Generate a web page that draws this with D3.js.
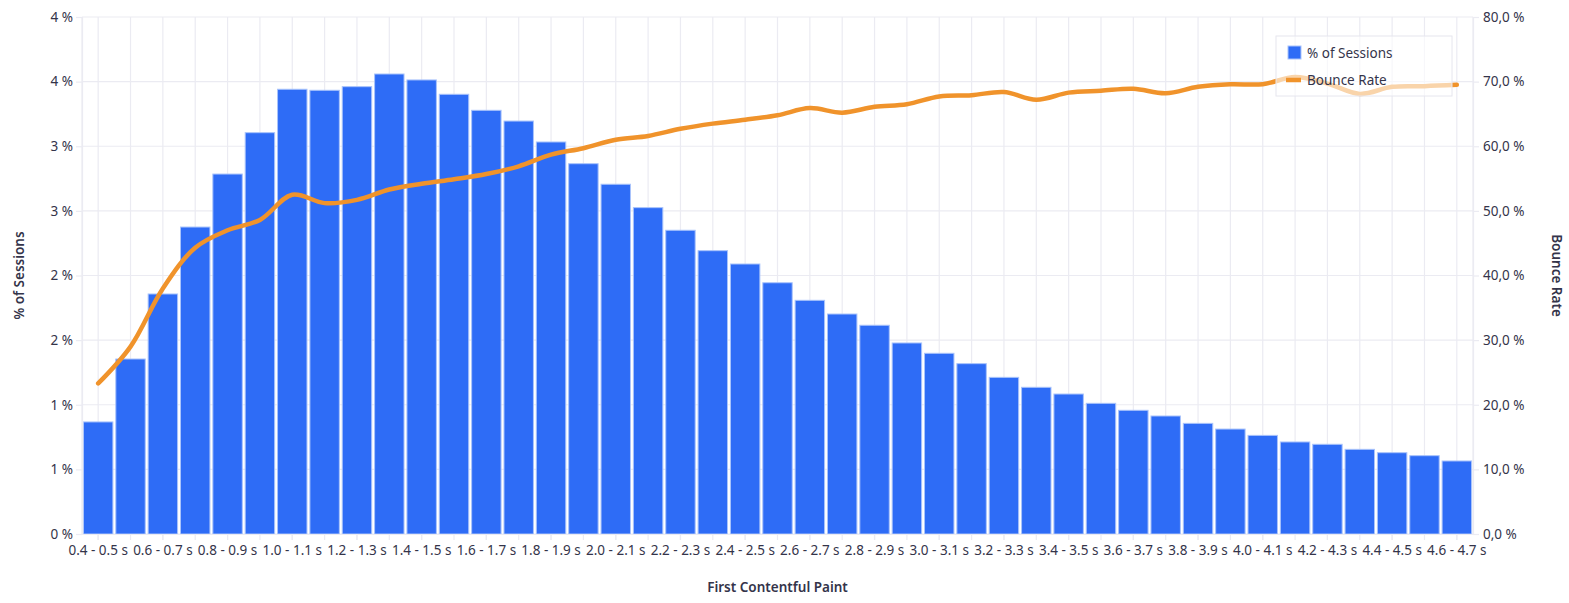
<!DOCTYPE html>
<html>
<head>
<meta charset="utf-8">
<script src="https://cdn.jsdelivr.net/npm/d3@7/dist/d3.min.js"></script>
<style>
  html, body { margin: 0; padding: 0; background: #fff; }
  svg { display: block; font-family: "Noto Sans", "Open Sans", sans-serif; }
</style>
</head>
<body>
<svg id="chart" width="1569" height="603"></svg>
<script>
const categories = [
  "0.4 - 0.5 s","0.5 - 0.6 s","0.6 - 0.7 s","0.7 - 0.8 s","0.8 - 0.9 s","0.9 - 1.0 s",
  "1.0 - 1.1 s","1.1 - 1.2 s","1.2 - 1.3 s","1.3 - 1.4 s","1.4 - 1.5 s","1.5 - 1.6 s",
  "1.6 - 1.7 s","1.7 - 1.8 s","1.8 - 1.9 s","1.9 - 2.0 s","2.0 - 2.1 s","2.1 - 2.2 s",
  "2.2 - 2.3 s","2.3 - 2.4 s","2.4 - 2.5 s","2.5 - 2.6 s","2.6 - 2.7 s","2.7 - 2.8 s",
  "2.8 - 2.9 s","2.9 - 3.0 s","3.0 - 3.1 s","3.1 - 3.2 s","3.2 - 3.3 s","3.3 - 3.4 s",
  "3.4 - 3.5 s","3.5 - 3.6 s","3.6 - 3.7 s","3.7 - 3.8 s","3.8 - 3.9 s","3.9 - 4.0 s",
  "4.0 - 4.1 s","4.1 - 4.2 s","4.2 - 4.3 s","4.3 - 4.4 s","4.4 - 4.5 s","4.5 - 4.6 s",
  "4.6 - 4.7 s"
];
const sessionsPct = [
  0.867, 1.354, 1.857, 2.375, 2.785, 3.105, 3.441, 3.433, 3.461, 3.559, 3.513, 3.402,
  3.278, 3.195, 3.033, 2.865, 2.706, 2.525, 2.350, 2.192, 2.089, 1.944, 1.808, 1.702,
  1.615, 1.478, 1.398, 1.318, 1.212, 1.135, 1.083, 1.011, 0.957, 0.913, 0.856, 0.812,
  0.763, 0.712, 0.694, 0.655, 0.629, 0.606, 0.565
];
const bounceRate = [
  23.3, 29.0, 38.0, 44.3, 47.0, 48.6, 52.5, 51.2, 51.7, 53.3, 54.2, 54.9,
  55.7, 56.9, 58.7, 59.7, 61.0, 61.6, 62.7, 63.5, 64.1, 64.8, 65.9, 65.2,
  66.1, 66.5, 67.7, 67.9, 68.4, 67.2, 68.3, 68.6, 68.9, 68.2, 69.2, 69.6,
  69.6, 70.7, 69.7, 68.1, 69.2, 69.3, 69.5
];
const leftTicks = [0, 0.5, 1, 1.5, 2, 2.5, 3, 3.5, 4];
const rightTicks = [0, 10, 20, 30, 40, 50, 60, 70, 80];
const seriesNames = ["% of Sessions", "Bounce Rate"];
const axisTitles = { x: "First Contentful Paint", yLeft: "% of Sessions", yRight: "Bounce Rate" };

const svg = d3.select("#chart");
const W = 1569, H = 603;
const M = { left: 82, right: W - 1473, top: 17, bottom: H - 534 };
const x0 = M.left, x1 = W - M.right, y0 = H - M.bottom, y1 = M.top;

const textColor = "#34344a";
const gridColor = "#ebebf2";
const barColor = "#2e6cf6";
const lineColor = "#f0932b";
const fs = 13.5;

const x = d3.scaleBand().domain(categories).range([x0, x1]).paddingInner(0.09).paddingOuter(0.045);
const yL = d3.scaleLinear().domain([0, 4]).range([y0, y1]);
const yR = d3.scaleLinear().domain([0, 80]).range([y0, y1]);
const cx = c => x(c) + x.bandwidth() / 2;

// grid
const grid = svg.append("g");
grid.selectAll("line.h").data(leftTicks).join("line")
  .attr("x1", x0).attr("x2", x1).attr("y1", d => yL(d)).attr("y2", d => yL(d))
  .attr("stroke", gridColor).attr("stroke-width", 1.2);
grid.selectAll("line.v").data(categories).join("line")
  .attr("x1", d => cx(d)).attr("x2", d => cx(d)).attr("y1", y1).attr("y2", y0)
  .attr("stroke", gridColor).attr("stroke-width", 1.2);
grid.selectAll("line.e").data([x0, x1]).join("line")
  .attr("x1", d => d).attr("x2", d => d).attr("y1", y1).attr("y2", y0)
  .attr("stroke", gridColor).attr("stroke-width", 1.2);

// bars
svg.append("g").selectAll("rect").data(sessionsPct).join("rect")
  .attr("x", (d, i) => x(categories[i]))
  .attr("y", d => yL(d))
  .attr("width", x.bandwidth())
  .attr("height", d => yL(0) - yL(d))
  .attr("fill", barColor)
  .attr("stroke", "#a9c3fb").attr("stroke-width", 1);

// line
const line = d3.line()
  .x((d, i) => cx(categories[i]))
  .y(d => yR(d))
  .curve(d3.curveCatmullRom.alpha(0.5));
svg.append("path").datum(bounceRate)
  .attr("d", line)
  .attr("fill", "none").attr("stroke", lineColor)
  .attr("stroke-width", 4.5).attr("stroke-linecap", "round").attr("stroke-linejoin", "round");

// axes
const fmtL = d => Math.round(d) + " %";
const fmtR = d => d3.format(".1f")(d).replace(".", ",") + " %";

const axL = svg.append("g").attr("transform", `translate(${x0},0)`)
  .call(d3.axisLeft(yL).tickValues(leftTicks).tickFormat(fmtL).tickSize(6).tickPadding(3));
const axR = svg.append("g").attr("transform", `translate(${x1},0)`)
  .call(d3.axisRight(yR).tickValues(rightTicks).tickFormat(fmtR).tickSize(6).tickPadding(4));
const labelCats = categories.filter((d, i) => i % 2 === 0);
const axB = svg.append("g").attr("transform", `translate(0,${y0})`)
  .call(d3.axisBottom(x).tickValues(labelCats).tickSize(6).tickPadding(5));
svg.append("g").selectAll("line").data(categories).join("line")
  .attr("x1", d => cx(d)).attr("x2", d => cx(d)).attr("y1", y0).attr("y2", y0 + 6)
  .attr("stroke", gridColor).attr("stroke-width", 1.2);

[axL, axR, axB].forEach(a => {
  a.select(".domain").attr("stroke", gridColor).attr("stroke-width", 1.2);
  a.selectAll(".tick line").attr("stroke", gridColor).attr("stroke-width", 1.2);
  a.selectAll(".tick text").attr("fill", textColor).attr("font-size", fs)
    .attr("font-family", "'Noto Sans', sans-serif");
});
axB.select(".domain").attr("d", `M${x0},0.5H${x1}`);

// axis titles
svg.append("text").attr("x", (x0 + x1) / 2).attr("y", 592)
  .attr("text-anchor", "middle").attr("font-size", fs).attr("font-weight", 600)
  .attr("fill", textColor).text(axisTitles.x);
svg.append("text").attr("transform", `translate(24,${(y0 + y1) / 2}) rotate(-90)`)
  .attr("text-anchor", "middle").attr("font-size", fs).attr("font-weight", 600)
  .attr("fill", textColor).text(axisTitles.yLeft);
svg.append("text").attr("transform", `translate(1552,${(y0 + y1) / 2}) rotate(90)`)
  .attr("text-anchor", "middle").attr("font-size", fs).attr("font-weight", 600)
  .attr("fill", textColor).text(axisTitles.yRight);

// legend
const lg = svg.append("g").attr("transform", "translate(1276,36)");
lg.append("rect").attr("width", 176).attr("height", 60)
  .attr("fill", "rgba(255,255,255,0.6)").attr("stroke", "#e6e6ee").attr("stroke-width", 1);
lg.append("rect").attr("x", 12).attr("y", 10).attr("width", 13).attr("height", 13)
  .attr("fill", barColor).attr("stroke", "#a9c3fb").attr("stroke-width", 1);
lg.append("text").attr("x", 31).attr("y", 17).attr("dy", "0.35em")
  .attr("font-size", fs).attr("fill", textColor).text(seriesNames[0]);
lg.append("line").attr("x1", 10).attr("x2", 25).attr("y1", 44).attr("y2", 44)
  .attr("stroke", lineColor).attr("stroke-width", 4.5);
lg.append("text").attr("x", 31).attr("y", 44).attr("dy", "0.35em")
  .attr("font-size", fs).attr("fill", textColor).text(seriesNames[1]);
</script>
</body>
</html>
